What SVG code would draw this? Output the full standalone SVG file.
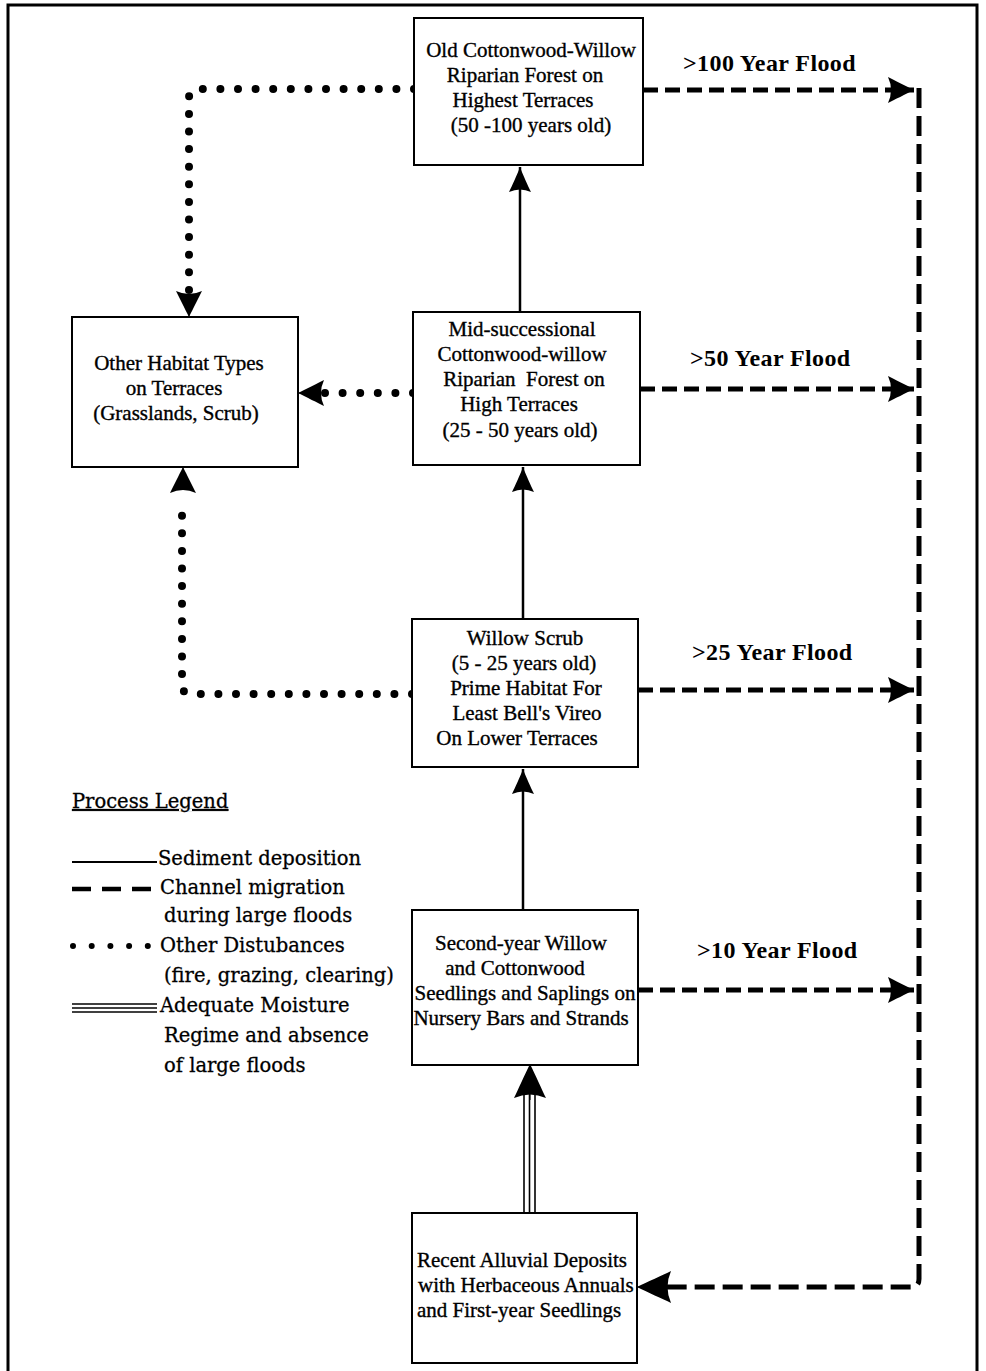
<svg xmlns="http://www.w3.org/2000/svg" width="986" height="1371" viewBox="0 0 986 1371">
<style>
.box{fill:#fff;stroke:#000;stroke-width:2}
.t{font-family:"Liberation Serif","Times New Roman",serif;font-size:21px;fill:#000;stroke:#000;stroke-width:0.35;text-anchor:middle}
.ts{font-family:"Liberation Serif","Times New Roman",serif;font-size:21px;fill:#000;stroke:#000;stroke-width:0.35}
.fl{font-family:"Liberation Serif","Times New Roman",serif;font-size:24px;font-weight:bold;fill:#000;letter-spacing:0.4px}
.lg{font-family:"DejaVu Serif","Liberation Serif",serif;font-size:19.5px;fill:#000;stroke:#000;stroke-width:0.3}
.solid{fill:none;stroke:#000;stroke-width:2.5}
.dash{fill:none;stroke:#000;stroke-width:5;stroke-dasharray:15 7}
.vdash{fill:none;stroke:#000;stroke-width:5;stroke-dasharray:20 8}
.dot{fill:none;stroke:#000;stroke-width:8;stroke-linecap:round;stroke-dasharray:0 17.6}
.thin{fill:none;stroke:#000;stroke-width:1.6}
</style>
<defs>
<marker id="ah" viewBox="-27 -15 28 30" refX="0" refY="0" markerWidth="28" markerHeight="30" markerUnits="userSpaceOnUse" orient="auto">
<path d="M0,0 C-8,-4 -20,-10 -26,-13 Q-20,0 -26,13 C-20,10 -8,4 0,0 Z" fill="#000"/>
</marker>
<marker id="ahs" viewBox="-27 -14 28 28" refX="0" refY="0" markerWidth="28" markerHeight="28" markerUnits="userSpaceOnUse" orient="auto">
<path d="M0,0 C-8,-3 -19,-8 -25,-11 Q-20,0 -25,11 C-19,8 -8,3 0,0 Z" fill="#000"/>
</marker>
<marker id="ahb" viewBox="-37 -18 38 36" refX="0" refY="0" markerWidth="38" markerHeight="36" markerUnits="userSpaceOnUse" orient="auto">
<path d="M0,0 C-10,-5 -26,-12 -34,-16 Q-27,0 -34,16 C-26,12 -10,5 0,0 Z" fill="#000"/>
</marker>
</defs>

<path d="M8,1380 V5 H977 V1380" fill="none" stroke="#000" stroke-width="3"/>

<g id="connectors">
<line class="solid" x1="520" y1="312" x2="520" y2="167" marker-end="url(#ahs)"/>
<line class="solid" x1="523" y1="619" x2="523" y2="467" marker-end="url(#ahs)"/>
<line class="solid" x1="523" y1="910" x2="523" y2="769" marker-end="url(#ahs)"/>
<line class="thin" x1="524" y1="1213" x2="524" y2="1090"/>
<line class="thin" x1="529.5" y1="1213" x2="529.5" y2="1090"/>
<line class="thin" x1="535" y1="1213" x2="535" y2="1090"/>
<line x1="530" y1="1100" x2="530" y2="1064" stroke="#000" stroke-width="1" marker-end="url(#ahb)"/>
<line class="dash" x1="643" y1="90" x2="914" y2="90" marker-end="url(#ah)"/>
<line class="dash" x1="640" y1="389" x2="914" y2="389" marker-end="url(#ah)"/>
<line class="dash" x1="638" y1="690" x2="914" y2="690" marker-end="url(#ah)"/>
<line class="dash" x1="638" y1="990" x2="914" y2="990" marker-end="url(#ah)"/>
<path class="vdash" d="M919,88 V1279 Q919,1287 911,1287 H650"/>
<line x1="660" y1="1287" x2="637" y2="1287" stroke="#000" stroke-width="1" marker-end="url(#ahb)"/>
<path class="dot" d="M414,89 H198 Q189,89 189,98 V296"/>
<line x1="189" y1="298" x2="189" y2="317" stroke="#000" stroke-width="1" marker-end="url(#ah)"/>
<path class="dot" d="M413,393 H320"/>
<line x1="318" y1="393" x2="298" y2="393" stroke="#000" stroke-width="1" marker-end="url(#ah)"/>
<path class="dot" d="M412,694 H191 Q182,694 182,685 V500"/>
<line x1="183" y1="490" x2="183" y2="467" stroke="#000" stroke-width="1" marker-end="url(#ah)"/>
</g>

<g id="n_old">
<rect class="box" x="414" y="18" width="229" height="147"/>
<text class="t" x="531" y="57">Old Cottonwood-Willow</text>
<text class="t" x="525" y="82">Riparian Forest on</text>
<text class="t" x="523" y="107">Highest Terraces</text>
<text class="t" x="531" y="132">(50 -100 years old)</text>
</g>

<g id="n_mid">
<rect class="box" x="413" y="312" width="227" height="153"/>
<text class="t" x="522" y="336">Mid-successional</text>
<text class="t" x="522" y="361">Cottonwood-willow</text>
<text class="t" x="524" y="386" xml:space="preserve">Riparian  Forest on</text>
<text class="t" x="519" y="411">High Terraces</text>
<text class="t" x="520" y="437">(25 - 50 years old)</text>
</g>

<g id="n_other">
<rect class="box" x="72" y="317" width="226" height="150"/>
<text class="t" x="179" y="370">Other Habitat Types</text>
<text class="t" x="174" y="395">on Terraces</text>
<text class="t" x="176" y="420">(Grasslands, Scrub)</text>
</g>

<g id="n_willow">
<rect class="box" x="412" y="619" width="226" height="148"/>
<text class="t" x="525" y="645">Willow Scrub</text>
<text class="t" x="524" y="670">(5 - 25 years old)</text>
<text class="t" x="526" y="695">Prime Habitat For</text>
<text class="t" x="527" y="720">Least Bell's Vireo</text>
<text class="t" x="517" y="745">On Lower Terraces</text>
</g>

<g id="n_second">
<rect class="box" x="412" y="910" width="226" height="155"/>
<text class="t" x="521" y="950">Second-year Willow</text>
<text class="t" x="515" y="975">and Cottonwood</text>
<text class="t" x="525" y="1000">Seedlings and Saplings on</text>
<text class="t" x="521" y="1025">Nursery Bars and Strands</text>
</g>

<g id="n_recent">
<rect class="box" x="412" y="1213" width="225" height="150"/>
<text class="ts" x="417" y="1267">Recent Alluvial Deposits</text>
<text class="ts" x="418" y="1292">with Herbaceous Annuals</text>
<text class="ts" x="417" y="1317">and First-year Seedlings</text>
</g>

<g id="flood_labels">
<text class="fl" x="683" y="71">&gt;100 Year Flood</text>
<text class="fl" x="690" y="366">&gt;50 Year Flood</text>
<text class="fl" x="692" y="660">&gt;25 Year Flood</text>
<text class="fl" x="697" y="958">&gt;10 Year Flood</text>
</g>

<g id="legend">
<text class="lg" x="72" y="808" text-decoration="underline">Process Legend</text>
<line x1="72" y1="862" x2="157" y2="862" stroke="#000" stroke-width="2"/>
<text class="lg" x="158" y="865">Sediment deposition</text>
<line x1="72" y1="889" x2="157" y2="889" stroke="#000" stroke-width="4.5" stroke-dasharray="19 11"/>
<text class="lg" x="160" y="894">Channel migration</text>
<text class="lg" x="164" y="922">during large floods</text>
<path d="M73,946 H150" fill="none" stroke="#000" stroke-width="6" stroke-linecap="round" stroke-dasharray="0 18.7"/>
<text class="lg" x="160" y="952">Other Distubances</text>
<text class="lg" x="164" y="982">(fire, grazing, clearing)</text>
<line x1="72" y1="1004" x2="157" y2="1004" stroke="#000" stroke-width="1.5"/>
<line x1="72" y1="1008" x2="157" y2="1008" stroke="#000" stroke-width="1.5"/>
<line x1="72" y1="1012" x2="157" y2="1012" stroke="#000" stroke-width="1.5"/>
<text class="lg" x="160" y="1012">Adequate Moisture</text>
<text class="lg" x="164" y="1042">Regime and absence</text>
<text class="lg" x="164" y="1072">of large floods</text>
</g>
</svg>
